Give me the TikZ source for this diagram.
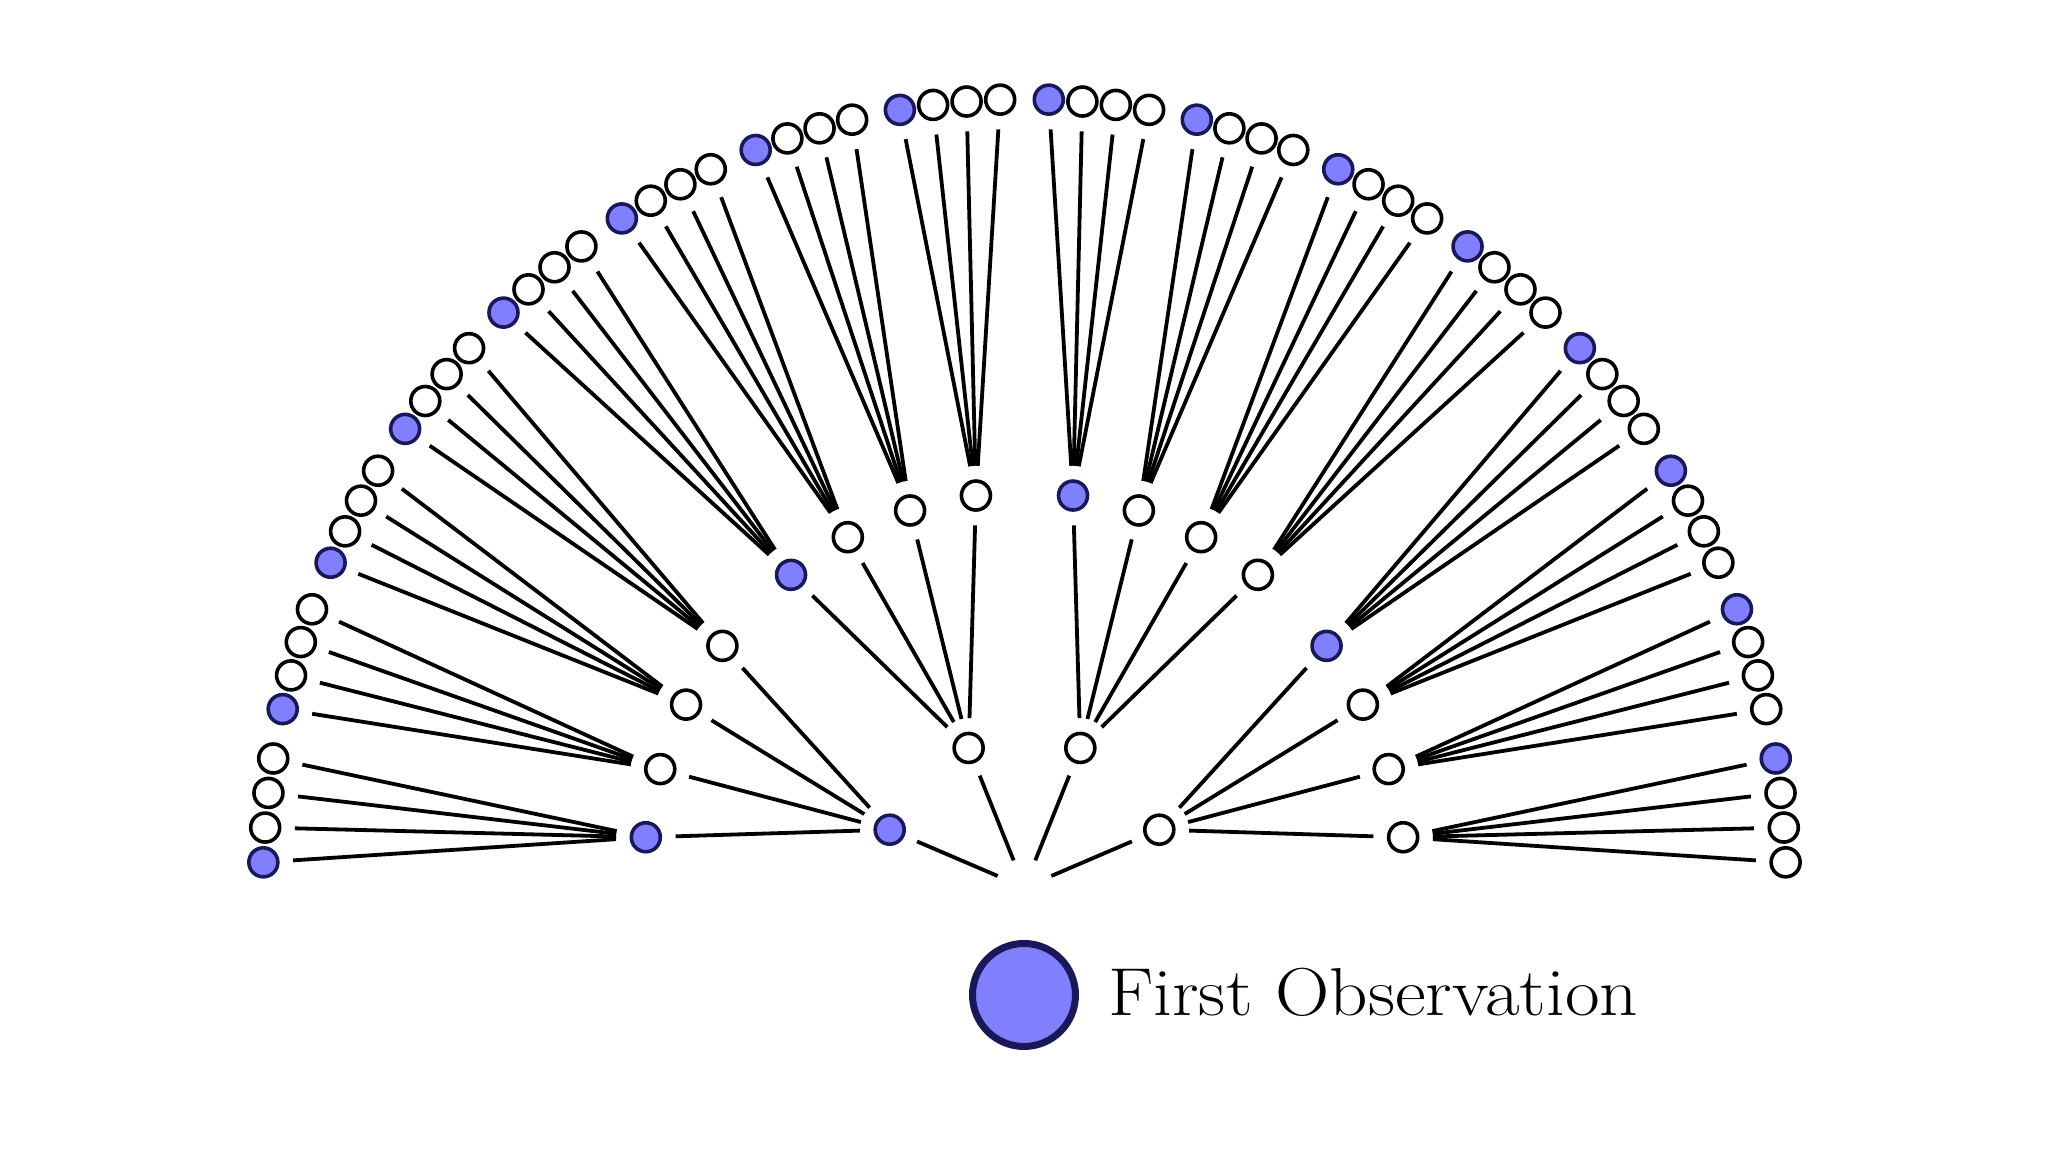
\documentclass[tikz,border=0pt]{standalone}
\usepackage{graphicx}
\usetikzlibrary{positioning}
\definecolor{obsblue}{RGB}{128,128,255}
\definecolor{obsedge}{RGB}{25,25,90}
\tikzset{
	marble/.style = {circle, draw = black, fill = white, line width = 0.036cm, minimum size = 0.29cm, inner sep = 0pt},
	bluemarble/.style = {marble, draw = obsedge, fill = obsblue},
	branch/.style = {line width = 0.038cm, shorten <= 0.135cm, shorten >= 0.135cm}
}
\begin{document}
\begin{tikzpicture}[x = 0.01cm, y = 0.01035cm]
	\useasboundingbox (-10.245cm,-2.645cm) rectangle (10.235cm,8.875cm);
	\node [circle, minimum size = 0.3cm, inner sep = 0pt] (root) at (0,0) {};
	% first draw
	\foreach \i in {0,...,3} {
		\pgfmathsetmacro{\angA}{157.5-45*\i}
		\ifnum\i=0 \def\styA{bluemarble}\else\def\styA{marble}\fi
		\node [\styA] (a\i) at (\angA:146) {};
		\draw [branch] (root) -- (a\i);
		% second draw
		\foreach \j in {0,...,3} {
			\pgfmathsetmacro{\angB}{\angA+(1.5-\j)*10.13}
			\ifnum\j=0 \def\styB{bluemarble}\else\def\styB{marble}\fi
			\node [\styB] (b\i\j) at (\angB:382) {};
			\draw [branch] (a\i) -- (b\i\j);
			% third draw
			\foreach \k in {0,...,3} {
				\pgfmathsetmacro{\angC}{180-11.25*(4*\i+\j+0.5)+(1.5-\k)*2.53}
				\ifnum\k=0 \def\styC{bluemarble}\else\def\styC{marble}\fi
				\node [\styC] (c\i\j\k) at (\angC:762) {};
				\draw [branch] (b\i\j) -- (c\i\j\k);
			}
		}
	}
	%legend
	\node [bluemarble, minimum size = 1.03cm, line width = 0.07cm] (legend) at (-0.005cm,-1.075cm) {};
	\node [anchor = base west, inner sep = 0pt, font = \fontsize{19.3}{23}\selectfont] (legendtext) at (0.83cm,-1.285cm) {\scalebox{1.11}[1]{First Observation}};
\end{tikzpicture}
\end{document}
